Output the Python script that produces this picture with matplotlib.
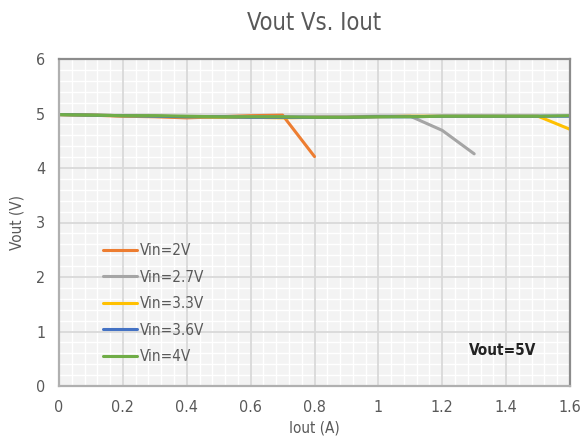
import matplotlib
matplotlib.use("Agg")
import matplotlib.pyplot as plt
from matplotlib.ticker import FixedLocator, FuncFormatter

iout = [0.0, 0.1, 0.2, 0.3, 0.4, 0.5, 0.6, 0.7, 0.8, 0.9, 1.0, 1.1, 1.2, 1.3, 1.4, 1.5, 1.6]

vin_2v_x = [0.0, 0.1, 0.2, 0.3, 0.4, 0.5, 0.6, 0.7, 0.8]
vin_2v_y = [4.98, 4.97, 4.95, 4.94, 4.92, 4.94, 4.96, 4.97, 4.21]

vin_27v_x = [0.0, 0.1, 0.2, 0.3, 0.4, 0.5, 0.6, 0.7, 0.8, 0.9, 1.0, 1.1, 1.2, 1.3]
vin_27v_y = [4.98, 4.97, 4.96, 4.95, 4.94, 4.94, 4.94, 4.94, 4.94, 4.94, 4.95, 4.95, 4.69, 4.26]

vin_33v_x = iout
vin_33v_y = [4.98, 4.97, 4.96, 4.95, 4.94, 4.93, 4.93, 4.92, 4.93, 4.93, 4.94, 4.95, 4.95, 4.95, 4.95, 4.95, 4.71]

vin_36v_y = [4.98, 4.97, 4.96, 4.95, 4.94, 4.94, 4.93, 4.93, 4.93, 4.93, 4.94, 4.94, 4.95, 4.95, 4.95, 4.95, 4.95]
vin_4v_y = [4.98, 4.97, 4.96, 4.96, 4.95, 4.94, 4.94, 4.94, 4.93, 4.93, 4.94, 4.94, 4.95, 4.95, 4.95, 4.95, 4.96]

labels = ["Vin=2V", "Vin=2.7V", "Vin=3.3V", "Vin=3.6V", "Vin=4V"]
colors = ["#ED7D31", "#A5A5A5", "#FFC000", "#4472C4", "#70AD47"]

x_ticks = [0, 0.2, 0.4, 0.6, 0.8, 1.0, 1.2, 1.4, 1.6]
y_ticks = [0, 1, 2, 3, 4, 5, 6]

plt.rcParams['font.family'] = ["DejaVu Sans"]
plt.rcParams['font.stretch'] = 'condensed'

fig = plt.figure(figsize=(5.80, 4.43), dpi=100)
ax = fig.add_axes([59/580, 1-386/443, (570-59)/580, (386-59)/443])
ax.set_facecolor("#f3f3f3")

series = [
    (vin_2v_x, vin_2v_y),
    (vin_27v_x, vin_27v_y),
    (vin_33v_x, vin_33v_y),
    (iout, vin_36v_y),
    (iout, vin_4v_y),
]
for (xs, ys), lab, c in zip(series, labels, colors):
    ax.plot(xs, ys, color=c, lw=2.2, label=lab, solid_capstyle='round', zorder=3)

ax.set_xlim(0, 1.6)
ax.set_ylim(0, 6)
ax.set_xticks(x_ticks)
ax.set_yticks(y_ticks)
xminor = [i * 0.04 for i in range(41) if i % 5 != 0]
yminor = [i * 0.2 for i in range(31) if i % 5 != 0]
ax.xaxis.set_minor_locator(FixedLocator(xminor))
ax.yaxis.set_minor_locator(FixedLocator(yminor))
ax.xaxis.set_major_formatter(FuncFormatter(lambda v, p: ("%g" % round(v, 2))))
ax.grid(which='minor', color='white', lw=1.0)
ax.grid(which='major', visible=False)
ax.set_axisbelow(True)
for xv in x_ticks:
    ax.axvline(xv, color='#d9d9d9', lw=1.3, zorder=1)
for yv in y_ticks:
    ax.axhline(yv, color='#d9d9d9', lw=1.3, zorder=1)
ax.tick_params(which='both', length=0, labelsize=11.5, colors='#595959', pad=10)

for s in ax.spines.values():
    s.set_color('#8c8c8c')
    s.set_linewidth(1.6)
    s.set_zorder(4)
ax.spines['left'].set_color('#b0b0b0')
ax.spines['bottom'].set_color('#b0b0b0')

ax.set_title("Vout Vs. Iout", fontsize=17, color='#595959', pad=21)
ax.set_xlabel("Iout (A)", fontsize=11, color='#595959', labelpad=4)
ax.set_ylabel("Vout (V)", fontsize=11, color='#595959', labelpad=8)

leg = ax.legend(loc='lower left', bbox_to_anchor=(0.06, 0.025), frameon=False,
                fontsize=11, handlelength=2.2, handletextpad=0.2, labelspacing=0.75,
                labelcolor='#595959')

ax.text(1.39, 0.66, "Vout=5V", fontsize=11, fontweight='bold', color='#222222',
        ha='center', va='center')

fig.savefig("out.png", dpi=100)
